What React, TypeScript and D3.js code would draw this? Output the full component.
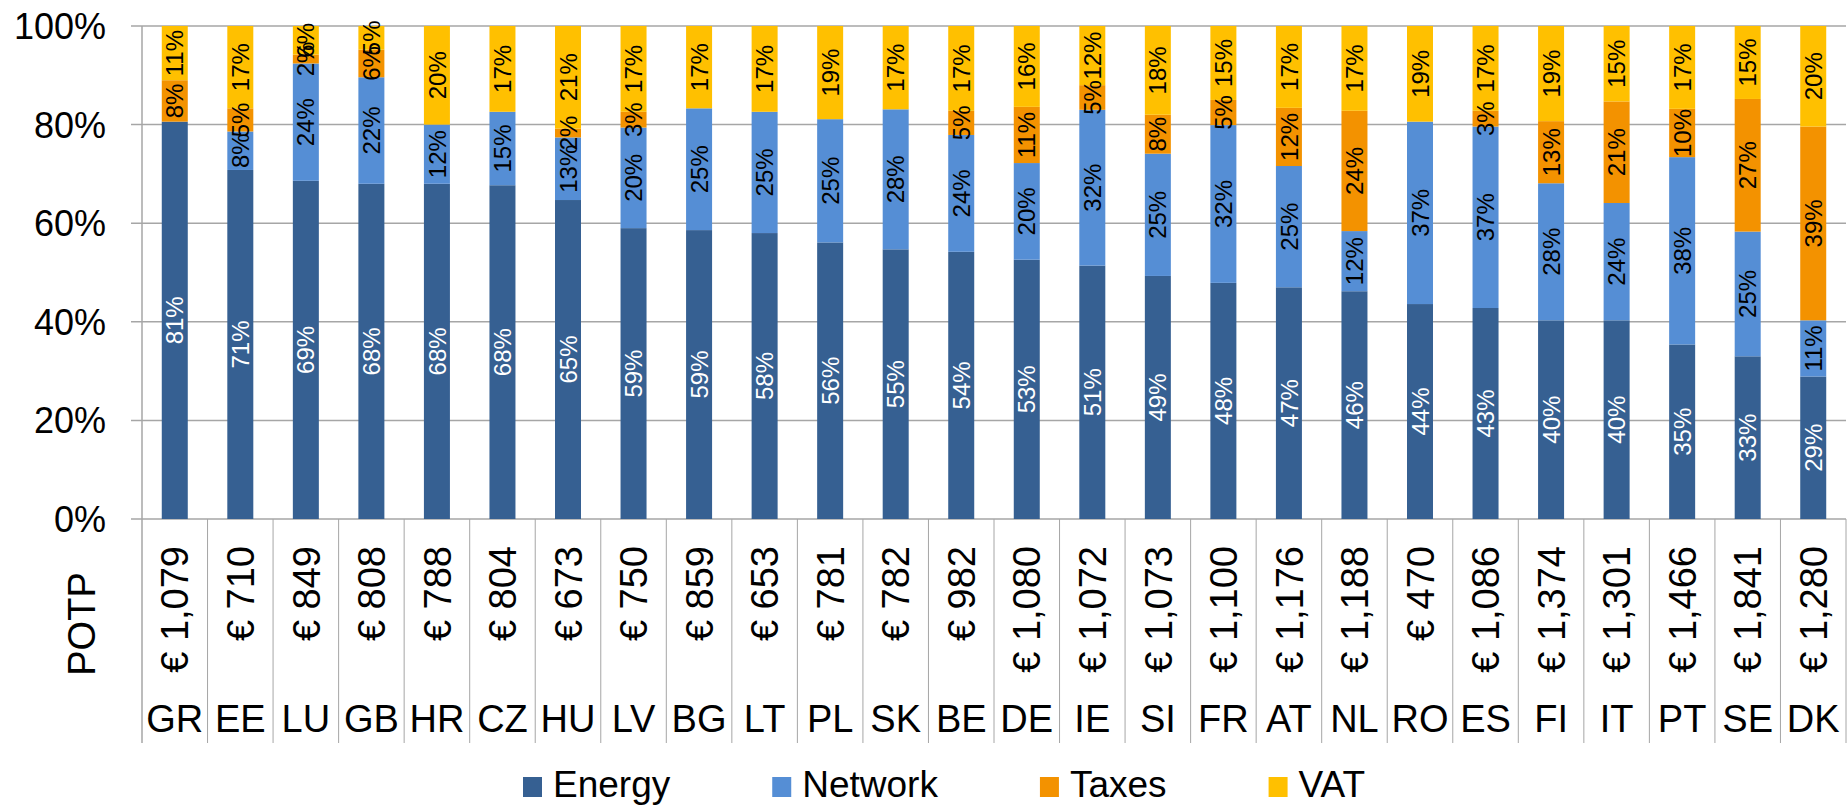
import React from 'react';
import * as d3 from 'd3';

const countries = ['GR','EE','LU','GB','HR','CZ','HU','LV','BG','LT','PL','SK','BE','DE','IE','SI','FR','AT','NL','RO','ES','FI','IT','PT','SE','DK'];
const potp = ['€ 1,079','€ 710','€ 849','€ 808','€ 788','€ 804','€ 673','€ 750','€ 859','€ 653','€ 781','€ 782','€ 982','€ 1,080','€ 1,072','€ 1,073','€ 1,100','€ 1,176','€ 1,188','€ 470','€ 1,086','€ 1,374','€ 1,301','€ 1,466','€ 1,841','€ 1,280'];
const energy = [80.6,70.8,68.6,68.0,68.0,67.7,64.7,59.0,58.6,58.0,56.1,54.7,54.2,52.6,51.4,49.3,47.9,47.0,46.2,43.6,42.8,40.3,40.3,35.4,33.0,28.9];
const network = [0,7.8,23.8,21.6,12.0,14.9,12.7,20.4,24.7,24.6,25.0,28.4,23.7,19.6,31.6,24.8,32.0,24.6,12.2,37.0,36.8,27.8,23.8,38.0,25.3,11.4];
const taxes = [8.4,4.7,1.8,5.6,0,0,1.8,3.2,0,0,0,0,4.9,11.4,5.0,7.9,5.1,11.8,24.4,0,3.2,12.6,20.6,9.8,26.9,39.3];
const vat = [11.0,16.7,5.8,4.8,20.0,17.4,20.8,17.4,16.7,17.4,18.9,16.9,17.2,16.4,12.0,18.0,15.0,16.6,17.2,19.4,17.2,19.3,15.3,16.8,14.8,20.4];
const seriesNames = ['Energy','Network','Taxes','VAT'];
const seriesColors = ['#366092','#558ED5','#F39200','#FFC000'];
const labelColors = ['#FFFFFF','#000000','#000000','#000000'];
const yTicks = [0,0.2,0.4,0.6,0.8,1];
const axisTitle = 'POTP';

const FONT = '"Liberation Sans", Arial, sans-serif';

export default function App() {
  const W = 1847, H = 805;
  const left = 142, right = 1846, top = 26, bottom = 519, catBottom = 743;
  const rows = countries.map((c, i) => ({ c, Energy: energy[i], Network: network[i], Taxes: taxes[i], VAT: vat[i] }));
  const stack = d3.stack<any>().keys(seriesNames).offset(d3.stackOffsetExpand);
  const series = stack(rows);
  const x = d3.scaleBand<string>().domain(countries).range([left, right]).padding(0);
  const y = d3.scaleLinear().domain([0, 1]).range([bottom, top]);
  const bw = x.bandwidth();
  const barW = 26;

  const legendStart = 523;
  const legendFont = 37;
  const measure = (t: string, size: number) => {
    const cv = document.createElement('canvas').getContext('2d');
    if (!cv) return t.length * size * 0.55;
    cv.font = `${size}px ${FONT}`;
    return cv.measureText(t).width;
  };
  let lx = legendStart;
  const legendItems = seriesNames.map((n, i) => {
    const item = { n, x: lx, color: seriesColors[i] };
    lx += 30 + measure(n, legendFont) + 102;
    return item;
  });

  return (
    <svg width={W} height={H} style={{ position: 'absolute', left: 0, top: 0, display: 'block', background: '#fff' }} fontFamily={FONT}>
      {/* gridlines */}
      {yTicks.map(t => (
        <g key={t}>
          <line x1={131} x2={right} y1={y(t)} y2={y(t)} stroke="#A6A6A6" strokeWidth={1.5} />
          <text x={106} y={y(t)} dy="0.36em" textAnchor="end" fontSize={36} fill="#000">{`${Math.round(t * 100)}%`}</text>
        </g>
      ))}
      {/* bars */}
      {series.map((s, si) => (
        <g key={s.key} fill={seriesColors[si]}>
          {s.map((d, i) => {
            const cx = (x(countries[i]) as number) + bw / 2;
            const h = y(d[0]) - y(d[1]);
            if (h <= 0) return null;
            return <rect key={i} x={cx - barW / 2} y={y(d[1])} width={barW} height={h} />;
          })}
        </g>
      ))}
      {/* data labels */}
      {series.map((s, si) => (
        <g key={'l' + s.key} fill={labelColors[si]} fontSize={24}>
          {s.map((d, i) => {
            const v = [energy, network, taxes, vat][si][i];
            if (!v) return null;
            const cx = (x(countries[i]) as number) + bw / 2;
            const cy = (y(d[0]) + y(d[1])) / 2;
            return (
              <text key={i} transform={`translate(${cx},${cy}) rotate(-90)`} textAnchor="middle" dy="0.36em">{`${Math.round(v)}%`}</text>
            );
          })}
        </g>
      ))}
      {/* axes */}
      <line x1={left} x2={left} y1={top} y2={catBottom} stroke="#A6A6A6" strokeWidth={1.5} />
      {countries.map((c, i) => {
        const x0 = x(c) as number;
        const cx = x0 + bw / 2;
        return (
          <g key={c}>
            <line x1={x0 + bw} x2={x0 + bw} y1={bottom} y2={catBottom} stroke="#A6A6A6" strokeWidth={1} />
            <text transform={`translate(${cx},546) rotate(-90)`} textAnchor="end" dy="0.36em" fontSize={38} fill="#000">{potp[i]}</text>
            <text x={cx} y={732} textAnchor="middle" fontSize={38} fill="#000">{c}</text>
          </g>
        );
      })}
      <text transform={`translate(81,624) rotate(-90)`} textAnchor="middle" dy="0.36em" fontSize={38} fill="#000">{axisTitle}</text>
      {/* legend */}
      {legendItems.map(it => (
        <g key={it.n}>
          <rect x={it.x} y={777} width={19} height={20} fill={it.color} />
          <text x={it.x + 30} y={797} fontSize={legendFont} fill="#000">{it.n}</text>
        </g>
      ))}
    </svg>
  );
}
